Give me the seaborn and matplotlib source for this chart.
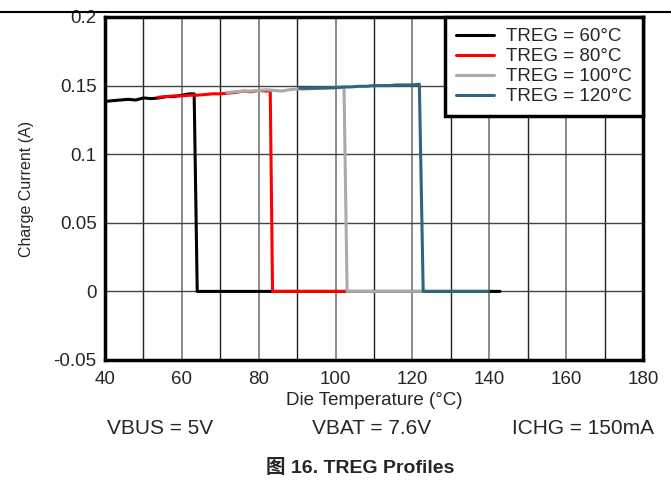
import pandas as pd
import matplotlib.pyplot as plt
import seaborn as sns

# curves: die temperature (C) vs charge current (A)
t60 = [40, 42, 44, 46, 48, 50, 52, 54, 56, 58, 60, 62, 63.2, 64.0, 142.8]
i60 = [0.1385, 0.1390, 0.1395, 0.1400, 0.1395, 0.1410, 0.1405, 0.1410, 0.1420, 0.1420, 0.1430, 0.1440, 0.1440, 0.0, 0.0]

t80 = [53.8, 56, 58, 60, 62, 64, 66, 68, 70, 72, 74, 76, 78, 80, 82, 83.0, 83.6, 103.0]
i80 = [0.1415, 0.1420, 0.1425, 0.1425, 0.1430, 0.1430, 0.1435, 0.1440, 0.1440, 0.1445, 0.1450, 0.1460, 0.1455, 0.1465, 0.1460, 0.1465, 0.0, 0.0]

t100 = [71.7, 74, 76, 78, 80, 82, 84, 86, 88, 90, 92, 94, 96, 98, 100, 102.2, 103.0, 123.0]
i100 = [0.1450, 0.1455, 0.1460, 0.1460, 0.1465, 0.1470, 0.1465, 0.1460, 0.1470, 0.1475, 0.1475, 0.1478, 0.1480, 0.1480, 0.1485, 0.1485, 0.0, 0.0]

t120 = [90.7, 94, 96, 98, 100, 102, 104, 106, 108, 110, 112, 114, 116, 118, 120, 121.8, 122.8, 139.8]
i120 = [0.1480, 0.1480, 0.1482, 0.1485, 0.1485, 0.1490, 0.1490, 0.1495, 0.1495, 0.1500, 0.1500, 0.1500, 0.1505, 0.1505, 0.1505, 0.1510, 0.0, 0.0]

labels = ['TREG = 60°C', 'TREG = 80°C', 'TREG = 100°C', 'TREG = 120°C']
colors = ['#000000', '#ff0000', '#aaaaaa', '#31647f']
notes = ['VBUS = 5V', 'VBAT = 7.6V', 'ICHG = 150mA']

df = pd.concat([
    pd.DataFrame({'temp': t, 'current': c, 'series': lab})
    for t, c, lab in zip([t60, t80, t100, t120], [i60, i80, i100, i120], labels)
])

sns.set_style('white')
plt.rcParams['font.family'] = ['Liberation Sans', 'Noto Sans CJK SC', 'DejaVu Sans']

fig = plt.figure(figsize=(6.71, 4.87), dpi=100)
ax = fig.add_axes([105 / 671, 1 - 360 / 487, 538 / 671, 343 / 487])

sns.lineplot(data=df, x='temp', y='current', hue='series', hue_order=labels,
             palette=colors, sort=False, estimator=None, linewidth=2.2, ax=ax)

ax.set_xlim(40, 180)
ax.set_ylim(-0.05, 0.2)
ax.set_xticks(range(40, 181, 20))
ax.set_xticks(range(50, 181, 20), minor=True)
ax.set_yticks([-0.05, 0, 0.05, 0.1, 0.15, 0.2])
ax.set_yticklabels(['-0.05', '0', '0.05', '0.1', '0.15', '0.2'])
ax.grid(True, which='major', axis='x', color='#777777', linewidth=1.2)
ax.grid(True, which='minor', axis='x', color='#222222', linewidth=1)
ax.grid(True, which='major', axis='y', color='#444444', linewidth=1)
ax.set_axisbelow(True)
ax.tick_params(axis='y', which='both', length=0, labelsize=13.5, pad=6)
ax.tick_params(axis='x', which='both', length=0, labelsize=13.5, pad=8)
for s in ax.spines.values():
    s.set_linewidth(2.5)
    s.set_color('black')

ax.set_xlabel('Die Temperature (°C)', fontsize=13.5, labelpad=3)
ax.set_ylabel('Charge Current (A)', fontsize=11.5, labelpad=14)

leg = ax.legend(loc='upper right', fontsize=13.5, frameon=True, fancybox=False,
                handlelength=2.0, handletextpad=0.65, borderpad=0.6, labelspacing=0.15,
                borderaxespad=0, framealpha=1)
leg.get_frame().set_edgecolor('black')
leg.get_frame().set_linewidth(2.5)
for h in leg.get_lines():
    h.set_linewidth(2.2)

for xc, txt in zip([160, 372, 583], notes):
    fig.text(xc / 671, 1 - 428 / 487, txt, fontsize=15, ha='center', va='center')
fig.text(360 / 671, 1 - 468 / 487, '图 16. TREG Profiles', fontsize=14, fontweight='bold',
         ha='center', va='center')

# header rule at the top of the page
fig.add_artist(plt.Line2D([0, 1], [1 - 12 / 487, 1 - 12 / 487], color='black', linewidth=1.5))

plt.savefig('out.png', dpi=100)
